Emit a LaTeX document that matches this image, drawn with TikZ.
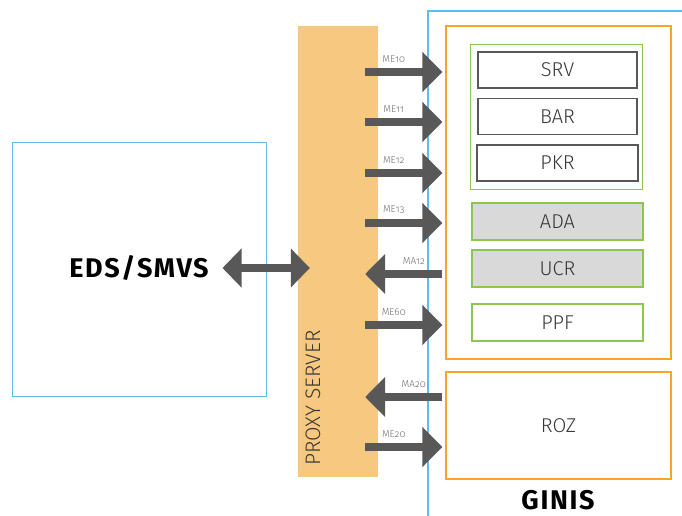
\documentclass[tikz,border=0pt]{standalone}
\usepackage{fontspec}
\setmainfont{Fira Sans}[UprightFont={* Light}, BoldFont={* Bold}]
\newfontfamily\msgfont{Fira Sans}[UprightFont={* Light}, Numbers=OldStyle]
\usepackage{tikz}
\usetikzlibrary{arrows.meta, positioning}
\definecolor{skyblue}{RGB}{95, 188, 235}
\definecolor{ginisorange}{RGB}{245, 166, 40}
\definecolor{modgreen}{RGB}{140, 198, 80}
\definecolor{proxyfill}{RGB}{247, 200, 128}
\definecolor{arrowgray}{RGB}{88, 88, 88}
\definecolor{legacygray}{RGB}{217, 217, 217}
\definecolor{textgray}{RGB}{55, 55, 55}
\definecolor{msggray}{RGB}{110, 110, 110}

\begin{document}
\begin{tikzpicture}[
    x=1pt, y=-1pt,
    sysbox/.style={rectangle, draw=skyblue, line width=1pt, minimum width=254pt, minimum height=254pt},
    proxybar/.style={rectangle, fill=proxyfill, minimum width=80pt, minimum height=451pt},
    frame/.style={rectangle, draw=ginisorange, line width=1.2pt, minimum width=225pt},
    group/.style={rectangle, draw=modgreen, line width=1pt, minimum width=172pt, minimum height=144pt},
    module/.style={rectangle, draw=arrowgray, line width=1.2pt, minimum width=159pt, minimum height=36pt, text=textgray, font=\fontsize{20}{24}\selectfont},
    legacy/.style={rectangle, draw=modgreen, line width=1.2pt, minimum width=171pt, minimum height=37pt, text=textgray, font=\fontsize{20}{24}\selectfont},
    title/.style={inner sep=0pt, font=\bfseries\fontsize{27}{30}\selectfont\addfontfeature{LetterSpace=6}},
    fat/.style={draw=arrowgray, line width=8.5pt, -{Triangle[length=20pt, width=39pt]}},
    both/.style={draw=arrowgray, line width=8.5pt, {Triangle[length=19pt, width=38pt]}-{Triangle[length=19pt, width=38pt]}},
    msg/.style={font=\msgfont\fontsize{10}{11}\selectfont, text=msggray, inner sep=1pt, above=4.5pt, pos=0.37}
]
\useasboundingbox (0,0) rectangle (682,516);

% EDS side
\node (eds) [sysbox] at (139,269) {};
\node (edslabel) [title] at (139,268) {EDS/SMVS};

% Proxy
\node (proxy) [proxybar] at (338,251.5) {};
\node (proxylabel) [rotate=90, text=textgray, font=\fontsize{21}{24}\selectfont] at (313,398) {PROXY SERVER};

% GINIS border
\draw [skyblue, line width=1.2pt] (428,516) |- (682,11);

% GINIS modules
\node (core) [frame, minimum height=333pt] at (558.5,192.5) {};
\node (grp) [group] at (556,117) {};
\node (srv) [module] at (557.5,70) {SRV};
\node (bar) [module] at (557.5,116.5) {BAR};
\node (pkr) [module, minimum width=161pt] at (557.5,163) {PKR};
\node (ada) [legacy, fill=legacygray] at (557.5,221.5) {ADA};
\node (ucr) [legacy, fill=legacygray] at (557.5,268.5) {UCR};
\node (ppf) [legacy] at (557.5,322.5) {PPF};
\node (roz) [frame, minimum height=107pt, text=textgray, font=\fontsize{20}{24}\selectfont] at (558.5,425.5) {ROZ};
\node (ginis) [title] at (558,500) {GINIS};

% Arrows
\draw [both] ([xshift=-44pt]eds.east |- 0,268) -- ([xshift=12pt]proxy.west |- 0,268);
\draw [fat] ([xshift=-13pt]proxy.east |- 0,72) -- node[msg] {ME10} ([xshift=-3pt]core.west |- 0,72);
\draw [fat] ([xshift=-13pt]proxy.east |- 0,122) -- node[msg] {ME11} ([xshift=-3pt]core.west |- 0,122);
\draw [fat] ([xshift=-13pt]proxy.east |- 0,173) -- node[msg] {ME12} ([xshift=-3pt]core.west |- 0,173);
\draw [fat] ([xshift=-13pt]proxy.east |- 0,223) -- node[msg] {ME13} ([xshift=-3pt]core.west |- 0,223);
\draw [fat] ([xshift=-3pt]core.west |- 0,274) -- node[msg] {MA12} ([xshift=-13pt]proxy.east |- 0,274);
\draw [fat] ([xshift=-13pt]proxy.east |- 0,325) -- node[msg] {ME60} ([xshift=-3pt]core.west |- 0,325);
\draw [fat] ([xshift=-3pt]roz.west |- 0,397) -- node[msg] {MA20} ([xshift=-13pt]proxy.east |- 0,397);
\draw [fat] ([xshift=-13pt]proxy.east |- 0,447) -- node[msg] {ME20} ([xshift=-3pt]roz.west |- 0,447);

\end{tikzpicture}
\end{document}
